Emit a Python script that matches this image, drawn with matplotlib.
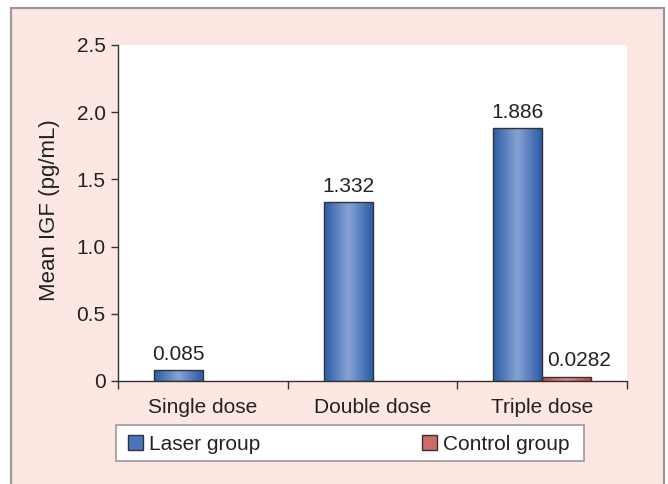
import numpy as np
import matplotlib
matplotlib.use("Agg")
import matplotlib.pyplot as plt
from matplotlib.patches import Rectangle, Patch
from matplotlib.colors import LinearSegmentedColormap

# data
categories = ["Single dose", "Double dose", "Triple dose"]
laser = [0.085, 1.332, 1.886]
control = [0.0, 0.0, 0.0282]
laser_labels = ["0.085", "1.332", "1.886"]
control_labels = ["", "", "0.0282"]
yticks = [0, 0.5, 1.0, 1.5, 2.0, 2.5]
ytick_labels = ["0", "0.5", "1.0", "1.5", "2.0", "2.5"]

plt.rcParams["font.family"] = ["Liberation Sans", "DejaVu Sans"]
txt = "#222222"
fs = 15

fig = plt.figure(figsize=(6.68, 4.84), dpi=100)
fig.patch.set_facecolor("white")

# pink panel with grey border (runs off the bottom)
fig.patches.append(Rectangle((11 / 668, -0.05), 653 / 668, 1.05 - 8 / 484,
                             transform=fig.transFigure, facecolor="#fce7e2",
                             edgecolor="#9a9a9a", lw=1.6, zorder=-10))
# legend box
fig.patches.append(Rectangle((116 / 668, 1 - 461 / 484), 468 / 668, 36 / 484,
                             transform=fig.transFigure, facecolor="white",
                             edgecolor="#9a9a9a", lw=1.2, zorder=-5))

ax = fig.add_axes([118 / 668, 1 - 381 / 484, 509 / 668, 336 / 484])
ax.set_facecolor("white")

x = np.arange(1, len(categories) + 1)
w = 0.288

blue_cmap = LinearSegmentedColormap.from_list("b", ["#2c5ca9", "#86a3d4", "#2c5ca9"])
red_cmap = LinearSegmentedColormap.from_list("r", ["#bb4a47", "#e3908c", "#bb4a47"])
grad = np.linspace(0, 1, 64).reshape(1, -1)


def gradient_bars(bars, cmap):
    for b in bars:
        if b.get_height() <= 0:
            b.set_visible(False)
            continue
        x0, y0 = b.get_x(), b.get_y()
        im = ax.imshow(grad, cmap=cmap, aspect="auto", zorder=2,
                       extent=(x0, x0 + b.get_width(), y0, y0 + b.get_height()))
        im.set_clip_path(b)


lb = ax.bar(x - w / 2, laser, w, facecolor="none", edgecolor="#333333", lw=1.0, zorder=3)
cb = ax.bar(x + w / 2, control, w, facecolor="none", edgecolor="#333333", lw=1.0, zorder=3)
gradient_bars(lb, blue_cmap)
gradient_bars(cb, red_cmap)

for b, lab in zip(lb, laser_labels):
    ax.annotate(lab, (b.get_x() + b.get_width() / 2, b.get_height()),
                xytext=(0, 4), textcoords="offset points", ha="center", va="bottom",
                fontsize=fs, color=txt)
for b, lab in zip(cb, control_labels):
    if lab:
        ax.annotate(lab, (b.get_x() + b.get_width() / 2, b.get_height()),
                    xytext=(9, 5), textcoords="offset points", ha="center", va="bottom",
                    fontsize=fs, color=txt)

ax.set_xlim(0.5, len(categories) + 0.5)
ax.set_ylim(0, 2.5)
ax.set_yticks(yticks)
ax.set_yticklabels(ytick_labels, fontsize=fs, color=txt)
ax.set_xticks(np.arange(0.5, len(categories) + 1, 1.0))
ax.set_xticklabels([])
ax.set_xticks(x, minor=True)
ax.set_xticklabels(categories, minor=True, fontsize=fs, color=txt)
ax.tick_params(axis="x", which="major", direction="out", length=6, width=1, color="#333333")
ax.tick_params(axis="x", which="minor", length=0, pad=12)
ax.tick_params(axis="y", direction="out", length=5, width=1, color="#333333", pad=4)
for s in ["top", "right"]:
    ax.spines[s].set_visible(False)
for s in ["left", "bottom"]:
    ax.spines[s].set_color("#333333")
    ax.spines[s].set_linewidth(1.0)

ax.set_ylabel("Mean IGF (pg/mL)", fontsize=16, color=txt, labelpad=12)
ax.yaxis.label.set_y(0.51)

handles = [Patch(facecolor="#4a74bd", edgecolor="#333333", lw=1.0, label="Laser group"),
           Patch(facecolor="#d06a66", edgecolor="#333333", lw=1.0, label="Control group")]
leg = fig.legend(handles=handles, loc="lower left", ncol=2, mode="expand",
                 bbox_to_anchor=(121 / 668, 1 - 461 / 484, 456 / 668, 36 / 484),
                 borderaxespad=0, fontsize=fs, frameon=False,
                 handlelength=0.7, handleheight=0.7, handletextpad=0.3,
                 borderpad=0.35, labelcolor=txt)

fig.savefig("out.png", dpi=100, facecolor=fig.get_facecolor())
